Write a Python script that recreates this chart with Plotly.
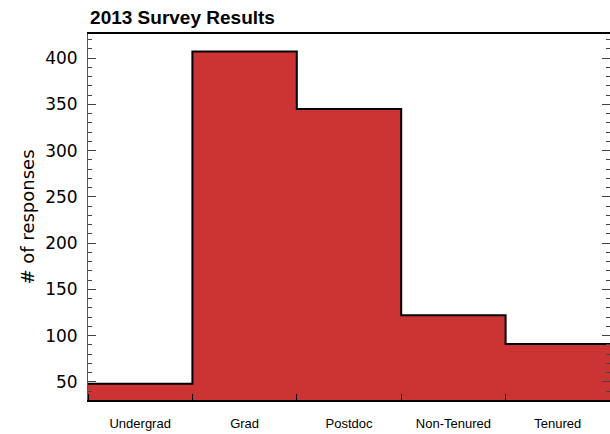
import plotly.graph_objects as go

categories = ["Undergrad", "Grad", "Postdoc", "Non-Tenured", "Tenured"]
responses = [48, 407, 345, 122, 91]
title_text = "2013 Survey Results"
y_title = "# of responses"
y_ticks = [50, 100, 150, 200, 250, 300, 350, 400]

centers = list(range(len(categories)))
edges = [c - 0.5 for c in centers] + [centers[-1] + 0.5]
step_y = responses + [responses[-1]]

RED = "rgb(204,51,51)"
FONT = "Arial, Liberation Sans, Helvetica, sans-serif"
WIDE = "DejaVu Sans, Verdana, sans-serif"

fig = go.Figure()
fig.add_trace(go.Bar(x=centers, y=responses, width=1.0, marker=dict(color=RED, line=dict(width=0)),
                     hoverinfo="skip", showlegend=False))
fig.add_trace(go.Scatter(x=edges, y=step_y, mode="lines", line=dict(shape="hv", color="black", width=2),
                         showlegend=False, hoverinfo="skip"))

fig.update_layout(
    width=610, height=434,
    margin=dict(l=88, r=0, t=34, b=34, autoexpand=False),
    paper_bgcolor="white", plot_bgcolor="white",
    bargap=0,
    font=dict(family=FONT, color="black"),
    title=dict(text="<b>" + title_text + "</b>", font=dict(size=19, family=FONT, color="black"),
               x=0.004, xref="paper", xanchor="left", y=1 - 17 / 434, yref="container", yanchor="middle"),
    xaxis=dict(
        range=[-0.5, 4.5], tickmode="array", tickvals=centers, ticktext=categories,
        ticks="", tickfont=dict(size=13, family=FONT), ticklabelstandoff=10, automargin=False,
        showgrid=False, zeroline=False,
        showline=True, linecolor="black", linewidth=2, mirror=True,
        minor=dict(tickmode="array", tickvals=edges, ticks="inside", ticklen=6, tickcolor="black", tickwidth=1, showgrid=False),
    ),
    yaxis=dict(
        range=[30.5, 426], tickmode="array", tickvals=y_ticks, ticks="inside", ticklen=8,
        tickcolor="#444", tickwidth=1, tickfont=dict(size=17, family=WIDE), ticklabelstandoff=6, automargin=False,
        showgrid=False, zeroline=False,
        showline=True, linecolor="#555", linewidth=1, mirror="allticks",
        minor=dict(dtick=10, tick0=0, ticks="inside", ticklen=4, tickcolor="#444", showgrid=False),
        title=dict(text=y_title, font=dict(size=18, family=WIDE), standoff=5),
    ),
)

fig.write_html("out.html", config={"displayModeBar": False},
               post_script="document.body.style.margin='0px';document.body.style.overflow='hidden';")
